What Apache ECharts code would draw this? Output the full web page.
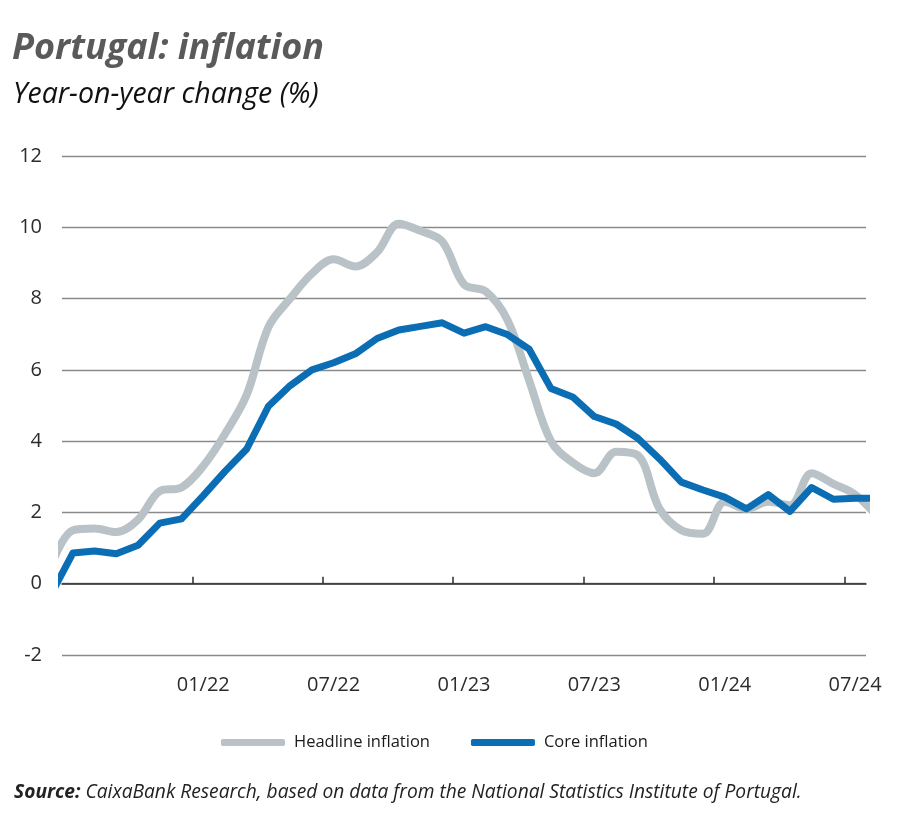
<!DOCTYPE html>
<html>
<head>
<meta charset="utf-8">
<script src="https://cdn.jsdelivr.net/npm/echarts@6/dist/echarts.min.js"></script>
<style>
  html, body { margin: 0; padding: 0; background: #fff; }
  #chart { width: 900px; height: 838px; }
</style>
</head>
<body>
<div id="chart"></div>
<script>
// Months from 06/21 to 08/24 (first and last are only partly visible at the plot edges)
const months = ['06/21','07/21','08/21','09/21','10/21','11/21','12/21',
  '01/22','02/22','03/22','04/22','05/22','06/22','07/22','08/22','09/22','10/22','11/22','12/22',
  '01/23','02/23','03/23','04/23','05/23','06/23','07/23','08/23','09/23','10/23','11/23','12/23',
  '01/24','02/24','03/24','04/24','05/24','06/24','07/24','08/24'];
const headline = [0.5, 1.5, 1.55, 1.45, 1.8, 2.6, 2.7,
  3.3, 4.2, 5.3, 7.2, 8.0, 8.7, 9.1, 8.9, 9.3, 10.1, 9.9, 9.6,
  8.4, 8.2, 7.4, 5.7, 4.0, 3.4, 3.1, 3.7, 3.6, 2.1, 1.5, 1.4,
  2.3, 2.1, 2.3, 2.2, 3.1, 2.8, 2.5, 1.9];
const core = [-0.3, 0.86, 0.92, 0.84, 1.08, 1.7, 1.82,
  2.47, 3.15, 3.78, 4.98, 5.56, 6.0, 6.2, 6.45, 6.88, 7.12, 7.22, 7.32,
  7.03, 7.21, 6.99, 6.58, 5.48, 5.24, 4.69, 4.48, 4.08, 3.5, 2.85, 2.63,
  2.43, 2.1, 2.5, 2.03, 2.7, 2.37, 2.4, 2.4];
const tickLabels = ['01/22','07/22','01/23','07/23','01/24','07/24'];
const yTicks = { min: -2, max: 12, interval: 2 };

// x position of a month = its index in months, centred within the month
// axis 0 = start of 07/21, axis 37 = start of 08/24
const toX = (i) => i - 0.5;
const tickPositions = tickLabels.map(l => months.indexOf(l) - 1);      // month boundaries
const labelPositions = tickLabels.map(l => months.indexOf(l) - 0.5);   // month centres

const font = 'Open Sans';
const chart = echarts.init(document.getElementById('chart'), null, { renderer: 'canvas' });
chart.setOption({
  animation: false,
  backgroundColor: '#ffffff',
  grid: { left: 62, right: 34, top: 156, bottom: 183, containLabel: false },
  xAxis: [{
    type: 'value', min: 0, max: 37, position: 'bottom',
    axisLine: { show: true, onZero: true, lineStyle: { color: '#2b2b2b', width: 1.5 } },
    axisTick: { show: true, inside: true, length: 7, customValues: tickPositions, lineStyle: { color: '#2b2b2b', width: 1.5 } },
    axisLabel: { show: false },
    splitLine: { show: false }
  }, {
    type: 'value', min: 0, max: 37, position: 'bottom',
    axisLine: { show: false, onZero: false },
    axisTick: { show: false },
    splitLine: { show: false },
    axisLabel: {
      show: true, customValues: labelPositions, margin: 20,
      fontFamily: font, fontSize: 20, color: '#2b2b2b',
      formatter: (v) => tickLabels[labelPositions.indexOf(v)] || ''
    }
  }],
  yAxis: {
    type: 'value', min: yTicks.min, max: yTicks.max, interval: yTicks.interval,
    axisLine: { show: false }, axisTick: { show: false },
    axisLabel: { fontFamily: font, fontSize: 20, color: '#2b2b2b', margin: 20 },
    splitLine: { show: true, lineStyle: { color: '#8a8a8a', width: 1.3 } }
  },
  legend: {
    left: 216, top: 729, itemWidth: 64, itemHeight: 7, itemGap: 41,
    icon: 'roundRect',
    textStyle: { fontFamily: font, fontSize: 16.5, color: '#1a1a1a', padding: [0, 0, 0, 4] },
    data: ['Headline inflation', 'Core inflation']
  },
  series: [{
    name: 'Headline inflation', type: 'line', xAxisIndex: 0,
    data: headline.map((v, i) => [toX(i), v]),
    smooth: 0.35, symbol: 'none', z: 2, clip: true,
    lineStyle: { color: '#b9c3c7', width: 8, cap: 'round', join: 'round' },
    itemStyle: { color: '#b9c3c7' }
  }, {
    name: 'Core inflation', type: 'line', xAxisIndex: 0,
    data: core.map((v, i) => [toX(i), v]),
    smooth: false, symbol: 'none', z: 3, clip: true,
    lineStyle: { color: '#0b6db3', width: 7, join: 'round' },
    itemStyle: { color: '#0b6db3' }
  }],
  graphic: [{
    type: 'text', left: 12, top: 31,
    style: { text: 'Portugal: inflation', fontFamily: font, fontSize: 36, fontStyle: 'italic', fontWeight: 'bold', fill: '#5a5a5a' }
  }, {
    type: 'text', left: 13, top: 80,
    style: { text: 'Year-on-year change (%)', fontFamily: font, fontSize: 28.5, fontStyle: 'italic', fill: '#111111' }
  }, {
    type: 'text', left: 14, top: 783,
    style: {
      text: '{b|Source:} CaixaBank Research, based on data from the National Statistics Institute of Portugal.',
      fontFamily: font, fontSize: 19.2, fontStyle: 'italic', fill: '#222222',
      rich: { b: { fontFamily: font, fontSize: 19.2, fontStyle: 'italic', fontWeight: 'bold', fill: '#222222' } }
    }
  }]
});
</script>
</body>
</html>
